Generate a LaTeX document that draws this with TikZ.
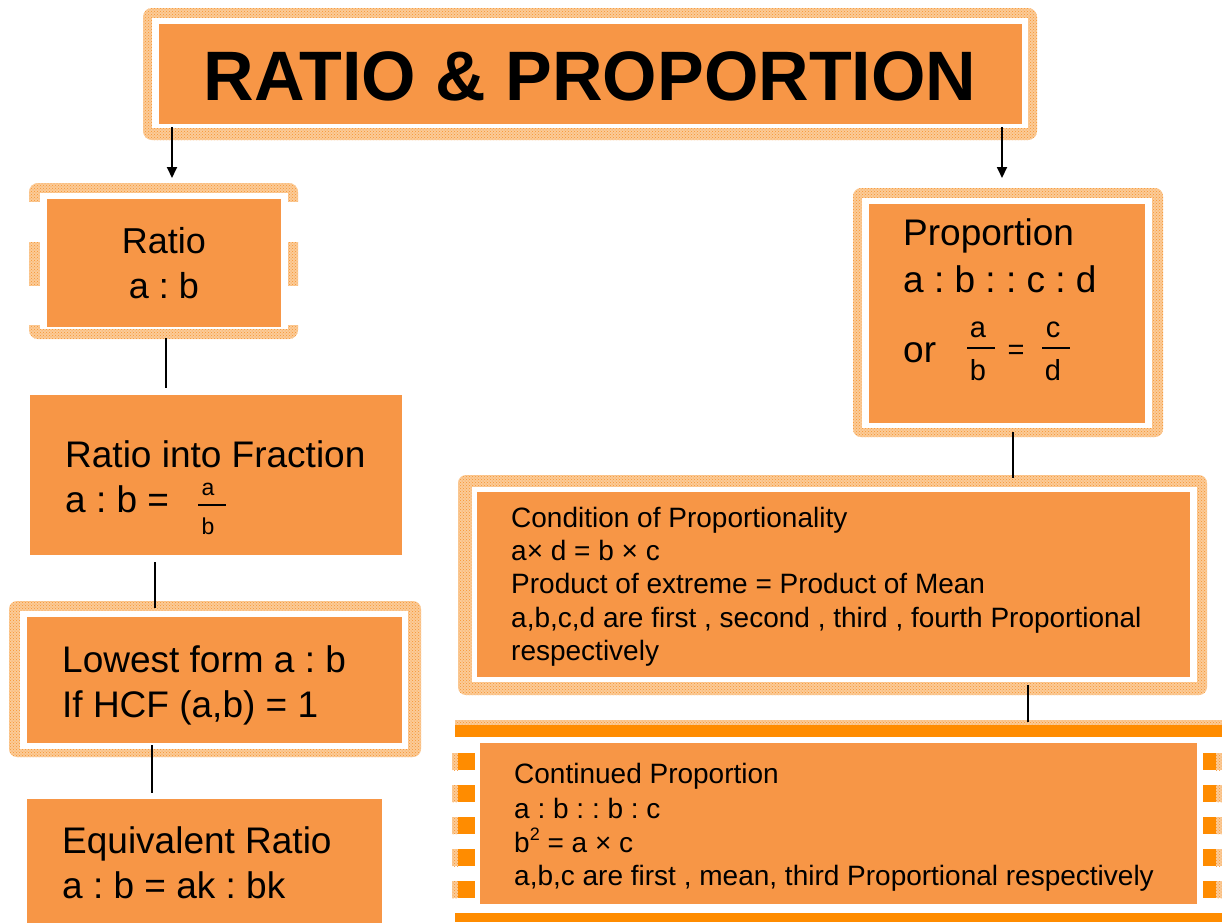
\documentclass[tikz,border=0pt]{standalone}
\usepackage{fontspec}
\setmainfont{Liberation Sans}
\frenchspacing
\usetikzlibrary{arrows.meta,patterns}
\definecolor{boxor}{HTML}{F79646}
\definecolor{hatchbg}{HTML}{FBCB98}
\definecolor{hatchfg}{HTML}{F7942F}
\definecolor{deepor}{HTML}{FF8C00}
\tikzset{
  box/.style={fill=boxor, inner sep=0pt, outer sep=0pt},
  hatch/.style={preaction={fill=hatchbg}, pattern=crosshatch dots, pattern color=hatchfg},
  gap/.style={fill=white},
  ltxt/.style={anchor=base west, inner sep=0pt, font=\fontsize{37}{44}\selectfont},
  ctxt/.style={anchor=base, inner sep=0pt, font=\fontsize{36}{44}\selectfont},
  stxt/.style={anchor=base west, inner sep=0pt, font=\fontsize{28}{34}\selectfont},
  frtxt/.style={anchor=base, inner sep=0pt, font=\fontsize{29}{34}\selectfont},
  smfr/.style={anchor=base, inner sep=0pt, font=\fontsize{23}{28}\selectfont},
  conn/.style={line width=2.6pt, black},
  arr/.style={line width=1.8pt, black, -{Triangle[width=10pt,length=11pt]}},
  fbar/.style={line width=1.2pt, black}
}
\begin{document}
\begin{tikzpicture}[x=1pt,y=-1pt]
\useasboundingbox (0,0) rectangle (1222,922);
\fill[white] (0,0) rectangle (1222,922);

% ---------- frames ----------
% title frame
\fill[hatch, rounded corners=9pt] (143,8) rectangle (1037,140);
\fill[gap] (152,18) rectangle (1028,128);
% ratio frame (broken sides)
\fill[hatch, rounded corners=9pt] (29,183) rectangle (298,339);
\fill[gap] (40,193) rectangle (288,329);
\fill[gap] (24,202) rectangle (41,242);
\fill[gap] (24,286) rectangle (41,325);
\fill[gap] (286,202) rectangle (303,242);
\fill[gap] (286,286) rectangle (303,325);
% lowest form frame
\fill[hatch, rounded corners=8pt] (9,601) rectangle (421,757);
\fill[gap] (20,611) rectangle (408,749);
% proportion frame
\fill[hatch, rounded corners=8pt] (853,188) rectangle (1163,437);
\fill[gap] (862,198) rectangle (1152,428);
% condition frame
\fill[hatch, rounded corners=8pt] (458,475) rectangle (1207,695);
\fill[gap] (472,487) rectangle (1197,682);
% continued proportion frame
\fill[hatch] (455,720) rectangle (1222,725);
\fill[deepor] (455,725) rectangle (1222,737);
\fill[deepor] (455,913) rectangle (1222,922);
\foreach \yy in {753,785,817,849,881}{
  \fill[hatch] (452,\yy) rectangle (458,\yy+17);
  \fill[deepor] (458,\yy) rectangle (475,\yy+17);
  \fill[deepor] (1203,\yy) rectangle (1216,\yy+17);
  \fill[hatch] (1216,\yy) rectangle (1222,\yy+17);
}

% ---------- boxes ----------
\node[box, minimum width=863pt, minimum height=100pt] (title) at (590.5,74) {};
\node[box, minimum width=234pt, minimum height=128pt] (ratio) at (164,263) {};
\node[box, minimum width=372pt, minimum height=160pt] (rif) at (216,475) {};
\node[box, minimum width=375pt, minimum height=126pt] (low) at (214.5,680) {};
\node[box, minimum width=355pt, minimum height=140pt] (eq) at (204.5,869) {};
\node[box, minimum width=276pt, minimum height=219pt] (prop) at (1007,313.5) {};
\node[box, minimum width=713pt, minimum height=185pt] (cond) at (833.5,584.5) {};
\node[box, minimum width=717pt, minimum height=161pt] (cont) at (838.5,823.5) {};

% ---------- texts ----------
\node[anchor=base, inner sep=0pt, font=\bfseries\fontsize{70}{80}\selectfont] (titlet) at (590,100) {RATIO \& PROPORTION};

\node[ctxt] (ratio1) at (164,253) {Ratio};
\node[ctxt] (ratio2) at (164,298) {a : b};

\node[ltxt] (rif1) at (65,467) {Ratio into Fraction};
\node[ltxt] (rif2) at (65,512) {a : b =};
\node[smfr] (rifa) at (208,495) {a};
\node[smfr] (rifb) at (208,534) {b};
\draw[fbar] (198,505) -- (226,505);

\node[ltxt] (low1) at (62,672) {Lowest form a : b};
\node[ltxt] (low2) at (62,717) {If HCF (a,b) = 1};

\node[ltxt] (eq1) at (62,853) {Equivalent Ratio};
\node[ltxt] (eq2) at (62,898) {a : b = ak : bk};

\node[ltxt] (prop1) at (903,245) {Proportion};
\node[ltxt] (prop2) at (903,292) {a : b : : c : d};
\node[ltxt] (prop3) at (903,362) {or};
\node[frtxt] (pa) at (978,337) {a};
\node[frtxt] (pb) at (978,380) {b};
\draw[fbar] (967,348) -- (995,348);
\node[frtxt] (peq) at (1016,359) {=};
\node[frtxt] (pc) at (1053,337) {c};
\node[frtxt] (pd) at (1053,380) {d};
\draw[fbar] (1042,348) -- (1070,348);

\node[stxt] (cond1) at (511,527) {Condition of Proportionality};
\node[stxt] (cond2) at (511,560) {a× d = b × c};
\node[stxt] (cond3) at (511,593) {Product of extreme = Product of Mean};
\node[stxt] (cond4) at (511,627) {a,b,c,d are first , second , third , fourth Proportional};
\node[stxt] (cond5) at (511,660) {respectively};

\node[stxt] (cont1) at (514,783) {Continued Proportion};
\node[stxt] (cont2) at (514,818) {a : b : : b : c};
\node[stxt] (cont3) at (514,852) {b\raisebox{0.42em}{\fontsize{18}{18}\selectfont 2} = a × c};
\node[stxt] (cont4) at (514,885) {a,b,c are first , mean, third Proportional respectively};

% ---------- connectors ----------
\draw[arr, shorten <=3pt, shorten >=21pt] ([xshift=13pt]title.south west) -- ([xshift=13pt]title.south west |- ratio.north);
\draw[arr, shorten <=3pt, shorten >=26pt] ([xshift=-20pt]title.south east) -- ([xshift=-20pt]title.south east |- prop.north);
\draw[conn, shorten <=11pt, shorten >=7pt] ([xshift=2pt]ratio.south) -- ([xshift=2pt]ratio.south |- rif.north);
\draw[conn, shorten <=7pt, shorten >=9pt] ([xshift=-61pt]rif.south) -- ([xshift=-61pt]rif.south |- low.north);
\draw[conn, shorten <=2pt, shorten >=6pt] ([xshift=-62.5pt]low.south) -- ([xshift=-62.5pt]low.south |- eq.north);
\draw[conn, shorten <=9pt, shorten >=14pt] ([xshift=6pt]prop.south) -- ([xshift=6pt]prop.south |- cond.north);
\draw[conn, shorten <=8pt, shorten >=21pt] ([xshift=194.5pt]cond.south) -- ([xshift=194.5pt]cond.south |- cont.north);
\end{tikzpicture}
\end{document}
